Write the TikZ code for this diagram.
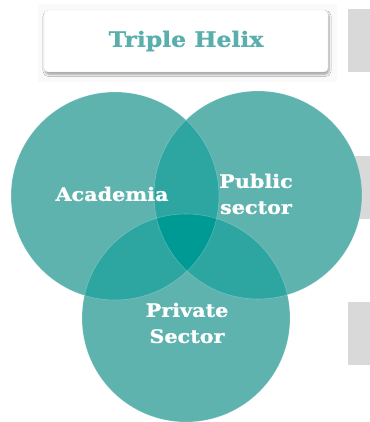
\documentclass[tikz,border=0pt]{standalone}
\usepackage{fontspec}
\setmainfont{DejaVu Serif}
\newfontfamily\slab{DejaVu Serif Bold}[FakeStretch=1.12, FakeBold=1]
\usepackage{xcolor}
\definecolor{helixTeal}{HTML}{5EB3AF}
\definecolor{helixMid}{HTML}{2DA6A2}
\definecolor{helixDark}{HTML}{009A95}
\definecolor{helixTitle}{HTML}{5AAFAC}
\definecolor{helixGray}{HTML}{D9D9D9}
\usetikzlibrary{shadows.blur}

\begin{document}
\begin{tikzpicture}[
    x=1pt, y=-1pt,
    sphere/.style={
        circle,
        fill=helixTeal,
        minimum size=208pt,
        inner sep=0pt
    },
    label/.style={
        text=white,
        align=center,
        font=\slab\fontsize{18.5}{26}\selectfont
    },
    titlebox/.style={
        draw=black!12,
        fill=white,
        rounded corners=4pt,
        minimum width=284pt,
        minimum height=62pt,
        blur shadow={shadow xshift=1pt, shadow yshift=-2.5pt, shadow blur steps=6, shadow opacity=35},
        text=helixTitle,
        font=\slab\fontsize{21}{24}\selectfont
    },
    tab/.style={
        fill=helixGray,
        minimum width=26pt,
        minimum height=63pt,
        inner sep=0pt
    }
]
\useasboundingbox (0,0) rectangle (369,422);

% gray tabs on the right edge
\node[tab] (tab1) at (361,41) {};
\node[tab] (tab2) at (361,187) {};
\node[tab] (tab3) at (361,333) {};

% title
\fill[black!2] (38,4) rectangle (337,82);
\node[titlebox] (title) at (186,41) {\raisebox{-1.5pt}{Triple Helix}};

% the three circles
\node[sphere] (academia) at (115,196) {};
\node[sphere] (public) at (258,195) {};
\node[sphere] (private) at (186,318) {};

% pairwise overlaps
\begin{scope}
    \clip (academia.center) circle[radius=104];
    \fill[helixMid] (public.center) circle[radius=104];
\end{scope}
\begin{scope}
    \clip (academia.center) circle[radius=104];
    \fill[helixMid] (private.center) circle[radius=104];
\end{scope}
\begin{scope}
    \clip (public.center) circle[radius=104];
    \fill[helixMid] (private.center) circle[radius=104];
\end{scope}

% centre where all three meet
\begin{scope}
    \clip (academia.center) circle[radius=104];
    \clip (public.center) circle[radius=104];
    \fill[helixDark] (private.center) circle[radius=104];
\end{scope}

% faint rims
\foreach \c in {academia, public, private}
    \draw[white, opacity=0.25, line width=0.6pt] (\c.center) circle[radius=104];

% labels
\node[label] (lblA) at (112,194) {Academia};
\node[label] (lblB) at (256,194) {Public\\sector};
\node[label] (lblC) at (187,323) {Private\\Sector};

\end{tikzpicture}
\end{document}
